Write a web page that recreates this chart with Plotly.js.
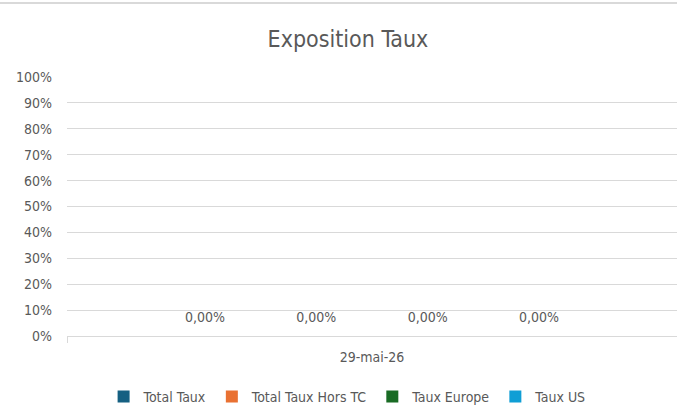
<!DOCTYPE html>
<html>
<head>
<meta charset="utf-8">
<script src="https://cdn.plot.ly/plotly-3.0.1.min.js"></script>
<style>html,body{margin:0;padding:0;background:#fff;}#chart{width:677px;height:414px;}</style>
</head>
<body>
<div id="chart"></div>
<script>
const categories = ['29-mai-26'];
const seriesNames = ['Total Taux', 'Total Taux Hors TC', 'Taux Europe', 'Taux US'];
const totalTaux = [0];
const totalTauxHorsTC = [0];
const tauxEurope = [0];
const tauxUS = [0];
const yTicks = [0, 0.1, 0.2, 0.3, 0.4, 0.5, 0.6, 0.7, 0.8, 0.9, 1];

const colors = ['#156082', '#E97132', '#196B24', '#0F9ED5'];
const seriesValues = [totalTaux, totalTauxHorsTC, tauxEurope, tauxUS];
const font = '"Liberation Sans Narrow", "DejaVu Sans Condensed", "Liberation Sans", sans-serif';

const barTraces = seriesValues.map((vals, i) => ({
  type: 'bar',
  name: seriesNames[i],
  x: categories,
  y: vals,
  marker: {color: colors[i]},
  hoverinfo: 'none'
}));

const labelTraces = seriesValues.map((vals, i) => ({
  type: 'scatter',
  mode: 'markers+text',
  name: seriesNames[i] + ' (étiquette)',
  showlegend: false,
  x: categories,
  y: vals,
  marker: {size: 16, opacity: 0, color: colors[i]},
  texttemplate: '%{y:.2%}',
  textposition: 'top center',
  cliponaxis: false,
  textfont: {family: font, size: 14, color: '#595959'},
  hoverinfo: 'none'
}));

const layout = {
  width: 677, height: 414,
  margin: {l: 67, r: 0, t: 77, b: 78},
  paper_bgcolor: '#ffffff',
  plot_bgcolor: '#ffffff',
  separators: ', ',
  font: {family: font, color: '#595959', size: 14},
  title: {text: 'Exposition Taux', font: {family: font, size: 23, color: '#595959'}, x: 0.514, xanchor: 'center', y: 0.905, yanchor: 'middle'},
  barmode: 'group',
  bargap: 0.27,
  bargroupgap: 0,
  scattermode: 'group',
  scattergap: 0.27,
  showlegend: true,
  legend: {orientation: 'h', x: 0.46, xanchor: 'center', y: -0.235, yanchor: 'middle', font: {family: font, size: 14, color: '#595959'}, itemwidth: 30, traceorder: 'normal'},
  xaxis: {
    type: 'category',
    showgrid: false,
    showline: true, linecolor: '#d9d9d9', linewidth: 1,
    ticks: 'outside', tickson: 'boundaries', ticklen: 6, tickcolor: '#d9d9d9',
    tickfont: {family: font, size: 14, color: '#595959'},
    ticklabelstandoff: 8,
    fixedrange: true
  },
  yaxis: {
    range: [0, 1],
    tickvals: yTicks,
    tickformat: '.0%',
    showgrid: true, gridcolor: '#d9d9d9', gridwidth: 1,
    zeroline: false,
    showline: false,
    ticks: '',
    ticklabelstandoff: 14,
    tickfont: {family: font, size: 14, color: '#595959'},
    fixedrange: true
  },
  shapes: [{type: 'line', xref: 'paper', yref: 'paper', x0: -0.2, x1: 1.1, y0: 1.286, y1: 1.286, line: {color: '#d9d9d9', width: 2}}]
};

Plotly.newPlot('chart', barTraces.concat(labelTraces), layout, {displayModeBar: false, staticPlot: true});
</script>
</body>
</html>
